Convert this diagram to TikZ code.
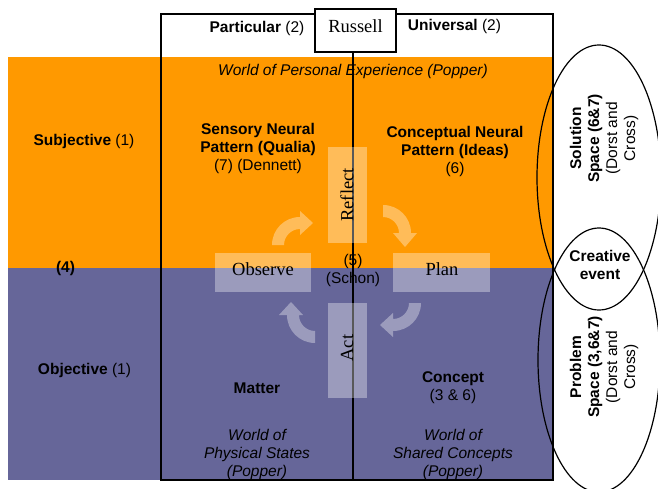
\documentclass[tikz,border=0pt]{standalone}
\usepackage{fontspec}
\setmainfont{Liberation Sans}
\newfontfamily\serifx{Liberation Serif}
\usetikzlibrary{shapes.geometric}
\definecolor{orangec}{RGB}{255,153,0}
\definecolor{bluec}{RGB}{102,102,153}
\begin{document}
\begin{tikzpicture}[x=1pt,y=-1pt,
  txt/.style={font=\fontsize{15.5}{18}\selectfont, align=center, inner sep=0pt, text=black},
  ser/.style={font=\serifx\fontsize{18.5}{22}\selectfont, inner sep=0pt, text=black},
  glass/.style={fill=white, fill opacity=0.35, draw=none, inner sep=0pt},
  frameline/.style={line width=1.3pt, draw=black},
  oval/.style={draw=black, line width=1.2pt, ellipse, inner sep=0pt}]
\useasboundingbox (0,0) rectangle (658,489);
% bands
\fill[orangec] (8,57) rectangle (553,268);
\fill[bluec] (8,268) rectangle (553,480);
% frame
\draw[frameline] (161,14) rectangle (553,480);
\coordinate (midtop) at (353,52);
\coordinate (midbot) at (353,480);
\draw[frameline] (midtop) -- (midbot);
\node[frameline, fill=white, minimum width=81pt, minimum height=43pt, inner sep=0pt] (russellbox) at (355.5,30.5) {};
\node[ser] (russell) at (355.5,26) {Russell};
% glass boxes
\node[glass, minimum width=39pt, minimum height=96pt] (reflectbox) at (347.5,195) {};
\node[glass, minimum width=39pt, minimum height=95pt] (actbox) at (347.5,350.5) {};
\node[glass, minimum width=96pt, minimum height=39pt] (observebox) at (263,272.5) {};
\node[glass, minimum width=97pt, minimum height=39pt] (planbox) at (441.5,272.5) {};
\node[ser, rotate=90] (reflect) at (347,195) {Reflect};
\node[ser, rotate=90] (act) at (347,348) {Act};
\node[ser] (observe) at (263,269.5) {Observe};
\node[ser] (plan) at (442,269.5) {Plan};
% curved arrows
\fill[glass] (272,245) .. controls (272,229.5) and (284.5,217) .. (300,217) -- (300,211) -- (313,223) -- (300,235) -- (300,229) .. controls (291.2,229) and (284,236.2) .. (284,245) -- cycle;
\fill[glass] (383,205) .. controls (398.5,205) and (411,217.5) .. (411,233) -- (417,233) -- (405,247) -- (393,233) -- (399,233) .. controls (399,224.2) and (391.8,217) .. (383,217) -- cycle;
\fill[glass] (421,303) .. controls (421,318.5) and (408.5,331) .. (393,331) -- (393,337) -- (380,325) -- (393,313) -- (393,319) .. controls (401.8,319) and (409,311.8) .. (409,303) -- cycle;
\fill[glass] (315,343) .. controls (299.5,343) and (287,330.5) .. (287,315) -- (279,315) -- (291,302) -- (303,315) -- (299,315) .. controls (299,323.8) and (306.2,331) .. (315,331) -- cycle;
% texts
\node[txt] (particular) at (257,28.5) {\textbf{Particular} (2)};
\node[txt] (universal) at (454.5,26) {\textbf{Universal} (2)};
\node[txt] (worldpe) at (353,71.5) {\itshape World of Personal Experience (Popper)};
\node[txt] (subjective) at (84,141.5) {\textbf{Subjective} (1)};
\node[txt] (four) at (65.5,268.5) {\textbf{(4)}};
\node[txt] (objective) at (84.5,370) {\textbf{Objective} (1)};
\node[txt] (sensory) at (258,148) {\textbf{Sensory Neural}\\\textbf{Pattern (Qualia)}\\(7) (Dennett)};
\node[txt] (conceptual) at (455,151.5) {\textbf{Conceptual Neural}\\\textbf{Pattern (Ideas)}\\(6)};
\node[txt] (five) at (353,270) {(5)\\(Schon)};
\node[txt] (matter) at (257,388) {\textbf{Matter}};
\node[txt] (concept) at (453,388) {\textbf{Concept}\\(3 \& 6)};
\node[txt] (worldps) at (257,454) {\itshape World of\\\itshape Physical States\\\itshape (Popper)};
\node[txt] (worldsc) at (453,454) {\itshape World of\\\itshape Shared Concepts\\\itshape (Popper)};
% ellipses
\node[oval, minimum width=124pt, minimum height=265pt] (solution) at (599,177.5) {};
\node[oval, minimum width=122pt, minimum height=264pt] (problem) at (599,360) {};
\node[txt, rotate=90] (soltext) at (604,138.5) {\textbf{Solution}\\\textbf{Space (6\&7)}\\(Dorst and\\Cross)};
\node[txt, rotate=90] (probtext) at (604,367) {\textbf{Problem}\\\textbf{Space (3,6\&7)}\\(Dorst and\\Cross)};
\node[txt] (creative) at (600,265) {\textbf{Creative}\\\textbf{event}};
\end{tikzpicture}
\end{document}
